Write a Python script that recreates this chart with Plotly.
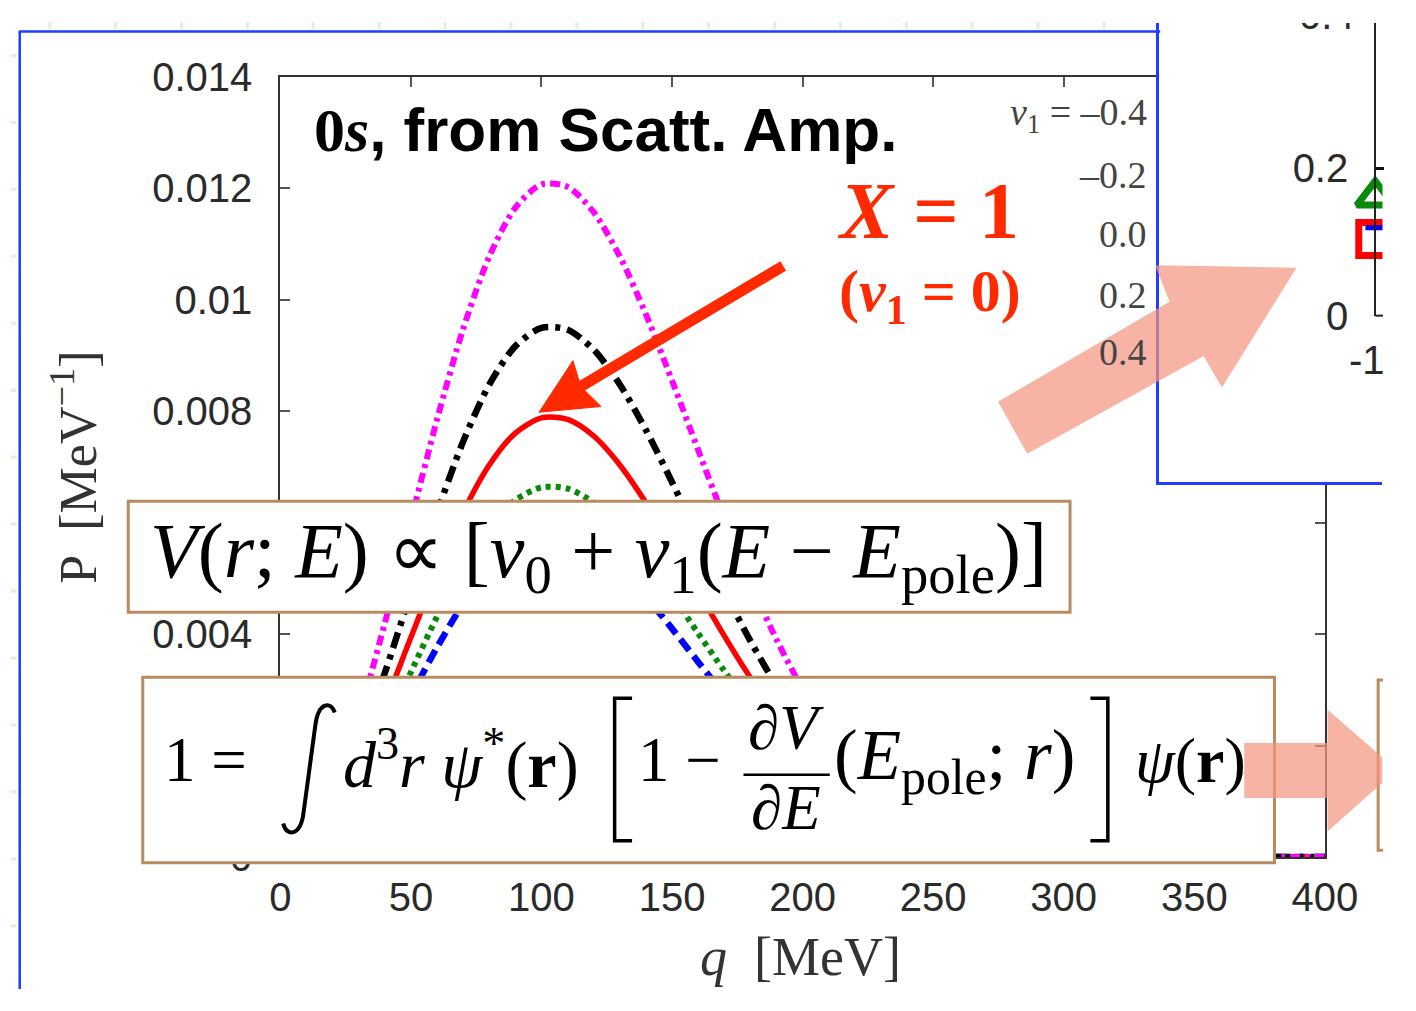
import plotly.graph_objects as go

W, H = 1416, 1011
def X(p): return p / W
def Y(p): return 1 - p / H

# ---------------- data ----------------
q = [0, 10, 20, 30, 40, 50, 60, 70, 80, 90, 100, 110, 120, 130, 140, 150, 160, 170,
     180, 190, 200, 210, 220, 230, 240, 250, 260, 280, 300, 320, 340, 360, 380, 400]

p_v1_p04 = [0, 0.000301, 0.001172, 0.002518, 0.004196, 0.006034, 0.007848, 0.009472, 0.010770,
            0.011647, 0.012065, 0.012021, 0.011566, 0.010773, 0.009733, 0.008545, 0.007300,
            0.006074, 0.004926, 0.003901, 0.003013, 0.002274, 0.001677, 0.001209, 0.000853,
            0.000588, 0.000397, 0.000169, 0.000067, 0.000024, 0.000008, 0.000002, 0.000001, 0]
p_v1_p02 = [0, 0.000237, 0.000922, 0.001981, 0.003302, 0.004748, 0.006175, 0.007452, 0.008474,
            0.009164, 0.009492, 0.009458, 0.009100, 0.008476, 0.007658, 0.006723, 0.005743,
            0.004779, 0.003876, 0.003069, 0.002370, 0.001789, 0.001319, 0.000951, 0.000671,
            0.000463, 0.000312, 0.000133, 0.000052, 0.000019, 0.000007, 0.000002, 0.000001, 0]
p_v1_00 = [0, 0.000197, 0.000766, 0.001644, 0.002740, 0.003940, 0.005124, 0.006184, 0.007032,
           0.007605, 0.007877, 0.007849, 0.007552, 0.007033, 0.006355, 0.005579, 0.004766,
           0.003966, 0.003216, 0.002547, 0.001967, 0.001484, 0.001095, 0.000789, 0.000557,
           0.000384, 0.000259, 0.000111, 0.000043, 0.000016, 0.000006, 0.000002, 0.000001, 0]
p_v1_m02 = [0, 0.000166, 0.000644, 0.001384, 0.002306, 0.003316, 0.004313, 0.005206, 0.005919,
            0.006401, 0.006631, 0.006607, 0.006357, 0.005920, 0.005349, 0.004696, 0.004012,
            0.003338, 0.002707, 0.002144, 0.001656, 0.001250, 0.000922, 0.000664, 0.000469,
            0.000323, 0.000218, 0.000093, 0.000037, 0.000013, 0.000005, 0.000001, 0.000001, 0]
p_v1_m04 = [0, 0.000144, 0.000562, 0.001207, 0.002011, 0.002892, 0.003762, 0.004540, 0.005163,
            0.005583, 0.005783, 0.005762, 0.005544, 0.005164, 0.004666, 0.004096, 0.003499,
            0.002912, 0.002361, 0.001870, 0.001444, 0.001090, 0.000804, 0.000579, 0.000409,
            0.000282, 0.000190, 0.000081, 0.000032, 0.000012, 0.000004, 0.000001, 0.000001, 0]

legend_labels = ["<i>v</i><sub>1</sub> = –0.4", "–0.2", "0.0", "0.2", "0.4"]

x_ticks = [0, 50, 100, 150, 200, 250, 300, 350, 400]
y_ticks = [0, 0.002, 0.004, 0.006, 0.008, 0.010, 0.012, 0.014]

# partially visible neighbouring panel (top right)
inset_x = [-10, -10, -10]
inset_tri = [0.161]
inset_sq = [0.104]
inset_blue = [0.1195]
inset_y_ticks = [0, 0.2, 0.4]
inset_x_ticks = ["-10"]

RED = "#ff2a00"
TAN = "#b98b5e"
BLUE_FRAME = "#1f3cff"
SALMON = "rgb(245,150,128)"

fig = go.Figure()

series = [
    (p_v1_m04, "#0000ff", "14px,7px", 6.5),
    (p_v1_m02, "#0a8a0a", "5px,5px", 6),
    (p_v1_00, "#ff0000", "solid", 5.5),
    (p_v1_p02, "#000000", "16px,7px,5px,7px", 6.5),
    (p_v1_p04, "#ff00ff", "10px,5px,4px,5px", 6),
]
for ys, col, dash, w in series:
    fig.add_trace(go.Scatter(x=q, y=ys, mode="lines",
                             line=dict(color=col, dash=dash, width=w, shape="spline", smoothing=0.8),
                             hoverinfo="skip", showlegend=False))

# dummy subplot: white covering panel with blue border
fig.add_trace(go.Scatter(x=[], y=[], xaxis="x2", yaxis="y2", hoverinfo="skip", showlegend=False))
# neighbouring panel markers
fig.add_trace(go.Scatter(x=inset_x[:1], y=inset_tri, xaxis="x3", yaxis="y3", mode="markers",
                         marker=dict(symbol="triangle-up-open", size=32, color="#0a8a0a", line=dict(width=7, color="#0a8a0a")),
                         hoverinfo="skip", showlegend=False))
fig.add_trace(go.Scatter(x=inset_x[1:2], y=inset_sq, xaxis="x3", yaxis="y3", mode="markers",
                         marker=dict(symbol="square-open", size=33, color="#ff0000", line=dict(width=7, color="#ff0000")),
                         hoverinfo="skip", showlegend=False))
fig.add_trace(go.Scatter(x=inset_x[2:3], y=inset_blue, xaxis="x3", yaxis="y3", mode="markers",
                         marker=dict(symbol="line-ew", size=14, color="#0000ff", line=dict(width=5, color="#0000ff")),
                         hoverinfo="skip", showlegend=False))

tickfont = dict(family="Liberation Sans, Arial", size=40, color="#2a2a2a")

fig.update_layout(
    width=W, height=H, margin=dict(l=0, r=0, t=0, b=0),
    paper_bgcolor="white", plot_bgcolor="white", showlegend=False,
    xaxis=dict(domain=[X(278), X(1356)], range=[0, 400], tickvals=x_ticks, ticks="inside", ticklen=10,
               tickwidth=1.5, tickcolor="#555", showline=True, linecolor="#333", linewidth=2, mirror="allticks",
               showgrid=False, zeroline=False, tickfont=tickfont, ticklabelstandoff=4),
    yaxis=dict(domain=[Y(873), Y(57)], range=[0, 0.014], tickvals=y_ticks, ticks="inside", ticklen=10,
               tickwidth=1.5, tickcolor="#555", showline=True, linecolor="#333", linewidth=2, mirror="allticks",
               showgrid=False, zeroline=False, tickfont=tickfont, ticklabelstandoff=18),
    xaxis2=dict(domain=[X(1185), X(1415)], range=[0, 1], anchor="y2", showline=True, linecolor=BLUE_FRAME,
                linewidth=2.5, showticklabels=False, ticks="", showgrid=False, zeroline=False),
    yaxis2=dict(domain=[Y(481), Y(1)], range=[0, 1], anchor="x2", showline=True, linecolor=BLUE_FRAME,
                linewidth=2.5, showticklabels=False, ticks="", showgrid=False, zeroline=False),
    xaxis3=dict(domain=[X(1385), X(1415.5)], range=[-10.23, -9.925], anchor="y3", showline=False,
                showticklabels=False, ticks="", showgrid=False, zeroline=False),
    yaxis3=dict(domain=[Y(307), Y(1)], range=[0, 0.3974], anchor="free", position=X(1408), showline=True,
                linecolor="#222", linewidth=2, tickvals=inset_y_ticks[:2], ticks="inside", ticklen=8, tickwidth=3,
                tickcolor="#111", showgrid=False, zeroline=False, tickfont=tickfont, ticklabelstandoff=18),
)

shapes = []
def seg(x0, y0, x1, y1, color, width, layer="above"):
    shapes.append(dict(type="line", xref="paper", yref="paper", x0=X(x0), y0=Y(y0), x1=X(x1), y1=Y(y1),
                       line=dict(color=color, width=width), layer=layer))
def poly(pts, fill, line_color, line_width, opacity=1.0, closed=True):
    d = "M " + " L ".join(f"{X(a):.5f},{Y(b):.5f}" for a, b in pts) + (" Z" if closed else "")
    shapes.append(dict(type="path", xref="paper", yref="paper", path=d, fillcolor=fill,
                       line=dict(color=line_color, width=line_width), opacity=opacity, layer="above"))
def rect(x0, y0, x1, y1, line_color, width, fill="white"):
    shapes.append(dict(type="rect", xref="paper", yref="paper", x0=X(x0), y0=Y(y1), x1=X(x1), y1=Y(y0),
                       fillcolor=fill, line=dict(color=line_color, width=width), layer="above"))

# faint green slide-grid marks
for gx in range(40, 1180, 68):
    seg(gx, 0, gx, 7, "#d8f5d8", 3, "below")
for gy in range(35, 1011, 70):
    seg(0, gy, 6, gy, "#d8f5d8", 3, "below")
# slide frame (blue)
seg(8, 10, 1186, 10, BLUE_FRAME, 2.5)
seg(9, 10, 9, 1011, BLUE_FRAME, 2.5)
# bottom axis stub of the neighbouring panel
seg(1408, 307, 1416, 307, "#222", 2)

# equation boxes
rect(121, 501, 1093, 617, TAN, 3)
rect(136, 685, 1304, 879, TAN, 3)
poly([(1416, 688), (1411, 688), (1411, 866), (1416, 866)], "white", TAN, 3, closed=False)

# integral sign, brackets, fraction bar
shapes.append(dict(type="path", xref="paper", yref="paper", layer="above", line=dict(color="black", width=4),
                   path=(f"M {X(281):.5f},{Y(838):.5f} C {X(284):.5f},{Y(852):.5f} {X(299):.5f},{Y(852):.5f} "
                         f"{X(302):.5f},{Y(826):.5f} L {X(314):.5f},{Y(736):.5f} C {X(317):.5f},{Y(710):.5f} "
                         f"{X(331):.5f},{Y(710):.5f} {X(334):.5f},{Y(722):.5f}")))
poly([(641, 707), (623, 707), (623, 856), (641, 856)], "rgba(0,0,0,0)", "black", 3.5, closed=False)
poly([(1114, 707), (1132, 707), (1132, 856), (1114, 856)], "rgba(0,0,0,0)", "black", 3.5, closed=False)
seg(756, 787, 845, 787, "black", 2.5)

# red arrow
seg(797, 255, 588, 381, RED, 11)
poly([(545, 408), (580, 354), (588, 381), (609, 402)], RED, RED, 1)

# salmon block arrows
poly([(1030, 400), (1206, 296), (1193, 263), (1312, 265), (1250, 366), (1234, 338), (1052, 440)],
     SALMON, SALMON, 16, opacity=0.72)
poly([(1280, 761), (1366, 761), (1366, 735), (1408, 772), (1408, 792), (1366, 830), (1366, 804), (1280, 804)],
     SALMON, SALMON, 14, opacity=0.72)

fig.update_layout(shapes=shapes)

ann = []
def text(x, y, s, size, family="Liberation Serif", color="black", xanchor="left", yanchor="middle", angle=0, **kw):
    ann.append(dict(x=X(x), y=Y(y), xref="paper", yref="paper", text=s, showarrow=False, xanchor=xanchor,
                    yanchor=yanchor, textangle=angle, font=dict(family=family, size=size, color=color), **kw))

# title
text(311, 112, "<b><span style=\"font-family:Liberation Serif\">0<i>s</i></span>, from Scatt. Amp.</b>", 62,
     family="Liberation Sans, Arial")
# X = 1 annotation
text(850, 198, "<b><i>X</i> = 1</b>", 80, color=RED)
text(852, 286, "<b>(<i>v</i><sub>1</sub> = 0)</b>", 60, color=RED)
# key labels
for lab, ly in zip(legend_labels, [97, 160, 222, 285, 345]):
    text(1174, ly, lab, 38, color="#444", xanchor="right")
# axis titles
text(815, 1010, "<i>q</i>  [MeV]", 54, color="#333", xanchor="center", yanchor="bottom", borderpad=0)
text(66, 465, "P  [MeV<sup>−1</sup>]", 52, color="#333", xanchor="center", angle=-90)
# neighbouring panel cut-off tick labels (clipped boxes)
text(1380, 353, inset_x_ticks[0], 40, family="Liberation Sans, Arial", color="#2a2a2a",
     width=34, align="left", borderpad=0)
text(1388, 0.5, f"{inset_y_ticks[2]:.1f}", 40, family="Liberation Sans, Arial", color="#2a2a2a",
     xanchor="right", yanchor="top", height=14, valign="bottom", borderpad=0)
# box 1 equation
text(141, 558, "<i>V</i>(<i>r</i>; <i>E</i>) ∝ [<i>v</i><sub>0</sub> + <i>v</i><sub>1</sub>(<i>E</i> − <i>E</i><sub>pole</sub>)]",
     78)
# box 2 equation pieces
text(156, 772, "1 =", 63)
text(341, 772, "<i>d</i><sup>3</sup><i>r ψ</i><sup>*</sup>(<b>r</b>)", 66)
text(645, 772, "1 −", 63)
text(800, 738, "∂<i>V</i>", 63, xanchor="center")
text(800, 822, "∂<i>E</i>", 63, xanchor="center")
text(847, 772, "(<i>E</i><sub>pole</sub>; <i>r</i>)", 71)
text(1158, 772, "<i>ψ</i>(<b>r</b>)", 64)

fig.update_layout(annotations=ann)
fig.write_html("out.html")
